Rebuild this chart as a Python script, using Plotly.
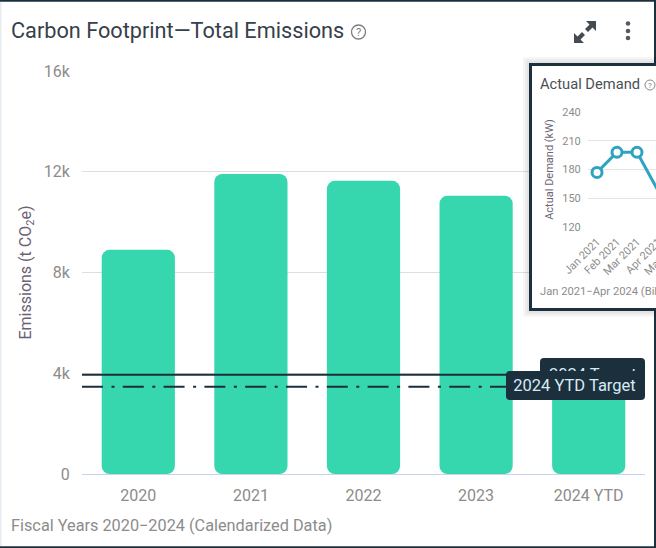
import plotly.graph_objects as go

# ---------- data ----------
years = ["2020", "2021", "2022", "2023", "2024 YTD"]
emissions = [8900, 11910, 11640, 11050, 3500]
y_ticks = [0, 4000, 8000, 12000, 16000]
y_labels = ["0", "4k", "8k", "12k", "16k"]
target_full = 3942
target_ytd = 3466

months = ["Jan 2021", "Feb 2021", "Mar 2021", "Apr 2021"]
demand = [177, 198, 198, 160]
demand_ticks = [120, 150, 180, 210, 240]

W, H = 656, 548
def px(x): return x / W
def py(y): return 1 - y / H

FONT = "Roboto"
DARK = "#1b2f3c"
TEAL = "#36d6ae"
BLUE = "#2fa3c2"
GREY = "#8c8c8c"

fig = go.Figure()

# an explicit base makes plotly round both ends of every bar
fig.add_bar(x=years, y=emissions, base=[0] * len(emissions),
            marker=dict(color=TEAL, line_width=0), width=0.65, xaxis="x", yaxis="y", showlegend=False)

# panel subplot (white card behind the inset)
fig.add_scatter(x=[0], y=[0], mode="none", xaxis="x2", yaxis="y2", showlegend=False, hoverinfo="skip")

# inset line chart
fig.add_scatter(x=months, y=demand, mode="lines+markers", xaxis="x3", yaxis="y3", showlegend=False,
                cliponaxis=False,
                line=dict(color=BLUE, width=3),
                marker=dict(size=10, color="white", line=dict(color=BLUE, width=3)))

def rounded(x0, y0, x1, y1, r):
    X0, X1, Y0, Y1 = px(x0), px(x1), py(y0), py(y1)
    rx, ry = r / W, r / H
    return (f"M{X0+rx},{Y0} L{X1-rx},{Y0} Q{X1},{Y0} {X1},{Y0-ry} L{X1},{Y1+ry} Q{X1},{Y1} {X1-rx},{Y1} "
            f"L{X0+rx},{Y1} Q{X0},{Y1} {X0},{Y1+ry} L{X0},{Y0-ry} Q{X0},{Y0} {X0+rx},{Y0} Z")

def ring(g):
    # soft shadow band around the inset card, open at the right page edge
    a0, b0, a1, b1 = px(529 - g), py(63 - g), px(656), py(311 + g)
    c0, d0, d1 = px(529), py(63), py(311)
    return f"M{a0},{b0} L{a1},{b0} L{a1},{d0} L{c0},{d0} L{c0},{d1} L{a1},{d1} L{a1},{b1} L{a0},{b1} Z"

shapes = [
    # page frame
    dict(type="line", xref="paper", yref="paper", x0=0, x1=1, y0=py(0.8), y1=py(0.8),
         line=dict(color=DARK, width=2), layer="below"),
    dict(type="line", xref="paper", yref="paper", x0=0, x1=1, y0=py(547.2), y1=py(547.2),
         line=dict(color=DARK, width=2), layer="below"),
    dict(type="line", xref="paper", yref="paper", x0=px(655), x1=px(655), y0=0, y1=1,
         line=dict(color=DARK, width=2), layer="below"),
    dict(type="line", xref="paper", yref="paper", x0=px(0.5), x1=px(0.5), y0=py(2), y1=py(546),
         line=dict(color="#e6edf2", width=2), layer="below"),
    # target lines
    dict(type="line", xref="x domain", yref="y", x0=0, x1=1, y0=target_full, y1=target_full,
         line=dict(color=DARK, width=2)),
    dict(type="line", xref="x domain", yref="y", x0=0, x1=1, y0=target_ytd, y1=target_ytd,
         line=dict(color=DARK, width=2, dash="21px,8.5px,3px,8.3px")),
    # tooltips
    dict(type="path", xref="paper", yref="paper", path=rounded(540, 358, 645, 392, 4),
         fillcolor=DARK, line_width=0),
    dict(type="path", xref="paper", yref="paper", path=rounded(506, 371, 645, 400, 4),
         fillcolor=DARK, line_width=0),
    # help icons
    dict(type="circle", xref="paper", yref="paper", x0=px(351.5), x1=px(365.5), y0=py(39), y1=py(25),
         line=dict(color="#7d7d7d", width=1.3)),
    dict(type="circle", xref="paper", yref="paper", x0=px(645), x1=px(655), y0=py(90), y1=py(80),
         line=dict(color="#8a8a8a", width=1)),
    # expand icon
    dict(type="path", xref="paper", yref="paper", fillcolor="#444b52", line_width=0,
         path=f"M{px(596)},{py(21)} L{px(596)},{py(31)} L{px(592.5)},{py(27.5)} L{px(588)},{py(32)} L{px(585)},{py(29)} "
              f"L{px(589.5)},{py(24.5)} L{px(586)},{py(21)} Z"),
    dict(type="path", xref="paper", yref="paper", fillcolor="#444b52", line_width=0,
         path=f"M{px(574)},{py(43)} L{px(574)},{py(33)} L{px(577.5)},{py(36.5)} L{px(582)},{py(32)} L{px(585)},{py(35)} "
              f"L{px(580.5)},{py(39.5)} L{px(584)},{py(43)} Z"),
]
for g in (2, 4, 6):
    shapes.append(dict(type="path", xref="paper", yref="paper", path=ring(g),
                       fillcolor="rgba(0,0,0,0.035)", line_width=0))
for cy in (23.5, 31, 38):
    shapes.append(dict(type="circle", xref="paper", yref="paper", fillcolor="#555b60", line_width=0,
                       x0=px(625.7), x1=px(630.3), y0=py(cy + 2.3), y1=py(cy - 2.3)))

def label(text, x, y, size, color, anchor="left", **kw):
    return dict(text=text, xref="paper", yref="paper", x=px(x), y=py(y), xanchor=anchor, yanchor="middle",
                showarrow=False, font=dict(family=FONT, size=size, color=color), **kw)

annotations = [
    label("Carbon Footprint—Total Emissions", 9, 31, 21.7, "#36404a"),
    label("?", 358.5, 32.5, 11, "#7d7d7d", "center"),
    label("Fiscal Years 2020−2024 (Calendarized Data)", 9, 525, 16.3, GREY),
    label("Actual Demand", 538, 84.5, 14.7, "#4a4f55"),
    label("?", 650, 85, 8, "#8a8a8a", "center"),
    label("Jan 2021−Apr 2024 (Billing Period)", 538, 291, 11.2, GREY),
    label("Apr 2021", 643, 256, 11, GREY, "center", textangle=-45),
    label("May 2021", 663, 256, 11, GREY, "center", textangle=-45),
    label("2024 Target", 592.5, 374, 16.5, "#d6ebf5", "center"),
    label("2024 YTD Target", 574.5, 385.5, 16.5, "#d6ebf5", "center",
          bgcolor=DARK, width=131, height=29, align="center", borderpad=0, borderwidth=0),
]

fig.update_layout(
    width=W, height=H, margin=dict(l=0, r=0, t=0, b=0, pad=0, autoexpand=False),
    paper_bgcolor="white", plot_bgcolor="white", barmode="overlay", barcornerradius=8,
    font=dict(family=FONT), shapes=shapes, annotations=annotations, showlegend=False,
    xaxis=dict(domain=[px(82), px(645)], anchor="y", type="category", range=[-0.5, 4.5], showgrid=False,
               ticks="outside", ticklen=7, tickcolor="rgba(0,0,0,0)", tickfont=dict(size=16, color=GREY),
               showline=False, zeroline=False),
    yaxis=dict(domain=[py(474), py(71)], anchor="x", range=[0, 16000], tickvals=y_ticks, ticktext=y_labels,
               gridcolor="#dedede", gridwidth=1.3, zeroline=True, zerolinecolor="#c8d3ee", zerolinewidth=1.3,
               ticks="outside", ticklen=8, tickcolor="rgba(0,0,0,0)", tickfont=dict(size=16, color=GREY),
               title=dict(text="Emissions (t CO<sub>2</sub>e)", standoff=8,
                          font=dict(size=16, color="#6c6274"))),
    xaxis2=dict(domain=[px(532), 1], anchor="y2", range=[0, 1], showgrid=False, zeroline=False, showticklabels=False,
                ticks="", showline=True, mirror=True, linecolor=DARK, linewidth=2.5),
    yaxis2=dict(domain=[py(308), py(66)], anchor="x2", range=[0, 1], showgrid=False, zeroline=False,
                showticklabels=False, ticks="", showline=True, mirror=True, linecolor=DARK, linewidth=2.5),
    xaxis3=dict(domain=[px(588), 1], anchor="y3", type="category", categoryorder="array", categoryarray=months,
                range=[-0.45, 2.95], tickvals=months, tickangle=-45, showgrid=False, zeroline=False,
                ticks="outside", ticklen=3, tickcolor="rgba(0,0,0,0)", tickfont=dict(size=11, color=GREY)),
    yaxis3=dict(domain=[py(227), py(112)], anchor="x3", range=[120, 240], tickvals=demand_ticks,
                gridcolor="#e4e4e4", gridwidth=1.2, zeroline=True, zerolinecolor="#cbd5ee", zerolinewidth=1.2,
                ticks="outside", ticklen=4, tickcolor="rgba(0,0,0,0)", tickfont=dict(size=11, color=GREY),
                title=dict(text="Actual Demand (kW)", standoff=6, font=dict(size=11, color="#6c6274"))),
)

fig.write_html("out.html", config=dict(displayModeBar=False),
               post_script="document.body.style.margin='0';")
